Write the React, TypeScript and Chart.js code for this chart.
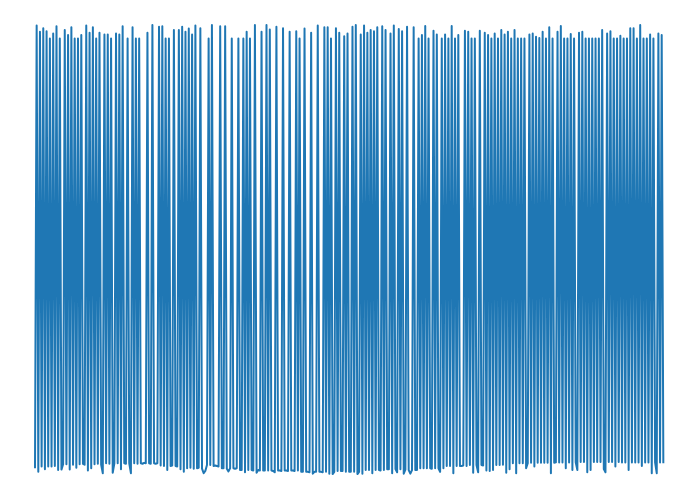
import React, { useEffect, useRef } from "react";
import { Chart, registerables } from "chart.js";

Chart.register(...registerables);

// Signal values, in order (indices 0..380)
const segA = [
  1.5, 99.9, 0.7, 98.5, 1.9, 99.3, 1.3, 98.6, 1.9, 97.0,
  1.9, 98.1, 2.0, 99.7, 1.1, 97.0, 1.2, 2.4, 98.9, 2.4,
  97.8, 1.2, 99.5, 2.3, 97.0, 1.6, 97.0, 2.4, 97.8, 2.5,
  2.3, 99.9, 1.0, 98.3, 1.5, 99.5, 2.4, 97.0, 2.5, 98.3,
  2.3, 0.4, 97.9, 2.6, 97.9, 2.5, 97.0, 0.5, 2.6, 98.1,
  2.6, 97.9, 1.3, 99.7, 2.6, 2.5, 97.0, 2.6, 0.4, 99.5,
  2.6, 97.0, 2.5, 97.0, 2.6, 2.5, 2.7, 2.6, 98.3, 2.6,
  2.5, 100, 2.6, 2.5, 2.6,
];
const segB = [
  99.6, 2.1, 99.7, 2.0, 97.0, 1.1, 97.0, 2.0, 2.1, 98.9,
  2.0, 1.9, 98.9, 1.3, 99.6, 0.7, 98.5, 1.5, 99.2, 1.6,
  97.9, 1.4, 99.9, 1.5, 1.6, 99.3, 1.4, 0.4, 0.9, 2.2,
  97.0, 2.2, 100, 2.0, 2.1, 2.0, 1.9, 99.7, 1.5, 1.5,
  99.7, 1.4, 0.8, 1.5, 97.0, 1.5, 1.4, 1.5, 97.0, 1.1,
  1.1, 97.0, 0.6, 98.5, 1.1, 97.0, 1.1, 1.0, 100, 0.5,
  1.1, 1.0, 98.5, 1.0, 1.0, 100, 1.0, 99.0, 1.0, 0.9,
  0.6, 99.6, 1.0, 1.0, 0.9, 99.3, 1.0,
];
const segC = [
  1.0, 0.9, 98.5, 1.0, 1.0, 0.9, 98.6, 1.0, 97.0, 0.7,
  0.7, 99.2, 0.7, 0.7, 0.6, 98.3, 0.3, 0.7, 0.7, 99.9,
  0.7, 0.7, 0.6, 99.5, 0.7, 99.5, 0.3, 97.0, 0.2, 0.7,
  99.3, 0.9, 98.3, 0.9, 0.9, 97.5, 0.7, 98.1, 0.7, 0.7,
  99.6, 0.7, 100, 0.2, 0.7, 97.9, 0.3, 99.9, 1.1, 98.3,
  1.1, 98.9, 0.4, 98.6, 1.1, 99.5, 1.1, 1.0, 99.7, 1.1,
  98.9, 1.3, 1.3, 98.1, 0.4, 99.9, 1.3, 0.6, 99.1, 1.3,
  98.6, 0.3, 1.2, 99.6, 1.1, 0.3,
];
const segD = [
  1.1, 99.5, 1.1, 1.1, 97.0, 1.5, 97.8, 1.5, 99.8, 1.5,
  97.0, 1.5, 1.4, 98.7, 1.5, 97.9, 1.5, 0.7, 97.0, 1.5,
  97.9, 2.0, 97.0, 2.0, 99.8, 0.4, 97.0, 2.0, 97.8, 2.0,
  2.0, 2.1, 98.7, 2.0, 98.5, 2.2, 97.0, 0.5, 97.0, 2.2,
  0.6, 98.7, 2.2, 2.1, 98.3, 1.0, 97.8, 0.9, 97.0, 1.1,
  98.1, 2.2, 97.0, 2.2, 98.9, 2.3, 97.9, 0.5, 98.5, 1.3,
  97.0, 2.6, 98.9, 0.4, 97.0, 2.6, 97.0, 2.6, 97.0, 1.5,
  2.6, 97.9, 2.7, 98.1, 1.9, 97.4,
];
const segE = [
  2.7, 97.1, 2.7, 98.5, 2.7, 97.0, 2.7, 99.5, 0.4, 97.0,
  2.7, 2.8, 98.5, 2.8, 99.8, 2.8, 97.0, 1.5, 97.0, 2.8,
  98.0, 1.1, 97.0, 2.8, 1.1, 98.3, 2.9, 98.5, 2.9, 97.0,
  0.6, 97.0, 1.1, 97.0, 2.9, 97.0, 2.9, 97.0, 2.9, 98.9,
  1.3, 0.6, 98.1, 2.9, 98.6, 2.9, 97.0, 1.9, 97.0, 2.9,
  97.6, 2.8, 97.0, 2.8, 97.0, 1.1, 99.3, 2.8, 99.3, 2.8,
  97.0, 2.8, 100, 2.0, 97.0, 2.8, 97.0, 2.8, 97.9, 0.4,
  97.0, 2.8, 0.4, 98.1, 2.8, 97.8, 2.6,
];

const values: number[] = [...segA, ...segB, ...segC, ...segD, ...segE];

export default function App() {
  const ref = useRef<HTMLCanvasElement | null>(null);

  useEffect(() => {
    if (!ref.current) return;
    const points = values.map((v, i) => ({ x: i, y: v }));
    const chart = new Chart(ref.current, {
      type: "line",
      data: {
        datasets: [
          {
            data: points,
            borderColor: "#1f77b4",
            backgroundColor: "#1f77b4",
            borderWidth: 2,
            pointRadius: 0,
            tension: 0,
            fill: false,
            borderJoinStyle: "round",
            borderCapStyle: "butt",
            clip: false as any,
          },
        ],
      },
      options: {
        responsive: false,
        animation: false,
        layout: {
          autoPadding: false,
          padding: { left: 35, right: 35, top: 25, bottom: 25 },
        },
        plugins: {
          legend: { display: false },
          tooltip: { enabled: false },
        },
        scales: {
          x: { type: "linear", min: 0, max: 381, display: false },
          y: { type: "linear", min: 0, max: 100, display: false },
        },
      },
    });
    return () => chart.destroy();
  }, []);

  return (
    <div style={{ position: "fixed", left: 0, top: 0, width: 700, height: 500, background: "#fff" }}>
      <canvas ref={ref} width={700} height={500} style={{ display: "block" }} />
    </div>
  );
}
